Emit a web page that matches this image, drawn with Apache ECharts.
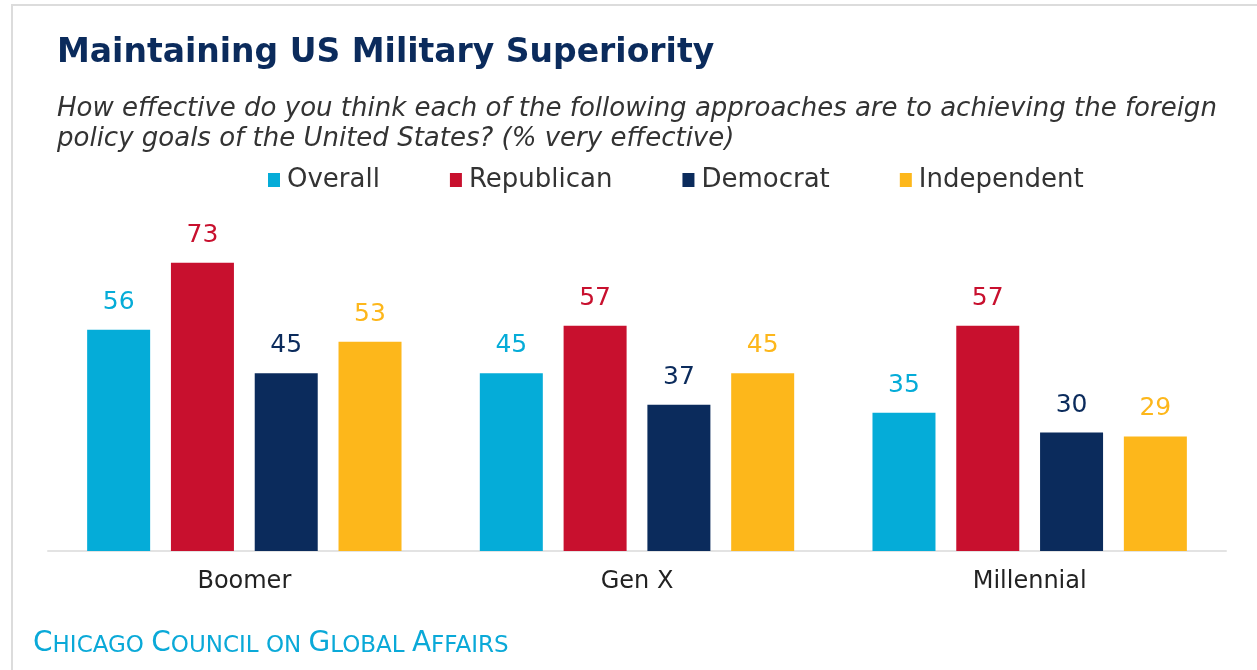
<!DOCTYPE html>
<html>
<head>
<meta charset="utf-8">
<style>
  html, body { margin: 0; padding: 0; background: #ffffff; }
  #chart { width: 1257px; height: 670px; }
</style>
<script src="https://cdn.jsdelivr.net/npm/echarts@6/dist/echarts.min.js"></script>
</head>
<body>
<div id="chart"></div>
<script>
// Generations on the x axis
const categories = ['Boomer', 'Gen X', 'Millennial'];

// % saying "very effective", by party group
const overall     = [56, 45, 35];
const republican  = [73, 57, 57];
const democrat    = [45, 37, 30];
const independent = [53, 45, 29];

const seriesNames = ['Overall', 'Republican', 'Democrat', 'Independent'];
const seriesColors = ['#05acd8', '#c8102e', '#0b2b5c', '#fdb71b'];
const seriesData = [overall, republican, democrat, independent];

const chart = echarts.init(document.getElementById('chart'));

const series = seriesData.map((values, i) => ({
  name: seriesNames[i],
  type: 'bar',
  data: values,
  barWidth: 63,
  barGap: '33%',
  itemStyle: { color: seriesColors[i] },
  label: {
    show: true,
    position: 'top',
    distance: 15,
    color: seriesColors[i],
    fontFamily: 'DejaVu Sans',
    fontSize: 25
  }
}));

chart.setOption({
  animation: false,
  backgroundColor: '#ffffff',
  title: [
    {
      text: 'Maintaining US Military Superiority',
      left: 52,
      top: 32,
      textStyle: {
        color: '#0b2b5c',
        fontFamily: 'DejaVu Sans',
        fontWeight: 'bold',
        fontSize: 33
      }
    },
    {
      text: 'How effective do you think each of the following approaches are to achieving the foreign\npolicy goals of the United States? (% very effective)',
      left: 52,
      top: 89,
      textStyle: {
        color: '#333333',
        fontFamily: 'DejaVu Sans',
        fontStyle: 'italic',
        fontWeight: 'normal',
        fontSize: 26,
        lineHeight: 30
      }
    }
  ],
  legend: {
    left: 263,
    top: 162,
    itemWidth: 12,
    itemHeight: 14,
    itemGap: 70,
    icon: 'rect',
    textStyle: {
      color: '#333333',
      fontFamily: 'DejaVu Sans',
      fontSize: 26,
      padding: [0, 0, 0, 2]
    },
    data: seriesNames
  },
  grid: {
    left: 48,
    right: 31,
    top: 235,
    bottom: 119,
    containLabel: false
  },
  xAxis: {
    type: 'category',
    data: categories,
    axisLine: { lineStyle: { color: '#e3e3e3', width: 2 } },
    axisTick: { show: false },
    axisLabel: {
      color: '#222222',
      fontFamily: 'DejaVu Sans',
      fontSize: 24,
      margin: 19
    }
  },
  yAxis: {
    type: 'value',
    min: 0,
    max: 80,
    show: false,
    splitLine: { show: false }
  },
  graphic: [
    // frame around the panel
    { type: 'rect', shape: { x: 11, y: 4, width: 1246, height: 2 }, style: { fill: '#dcdcdc' } },
    { type: 'rect', shape: { x: 11, y: 4, width: 2, height: 666 }, style: { fill: '#dcdcdc' } },
    // source credit in small caps
    {
      type: 'text',
      left: 33,
      top: 630,
      style: {
        text: '{b|C}{s|HICAGO }{b|C}{s|OUNCIL ON }{b|G}{s|LOBAL }{b|A}{s|FFAIRS}',
        rich: {
          b: { fontFamily: 'DejaVu Sans', fontSize: 28, fill: '#0aa9d8', verticalAlign: 'bottom' },
          s: { fontFamily: 'DejaVu Sans', fontSize: 23, fill: '#0aa9d8', verticalAlign: 'bottom' }
        }
      }
    }
  ],
  series: series
});
</script>
</body>
</html>
